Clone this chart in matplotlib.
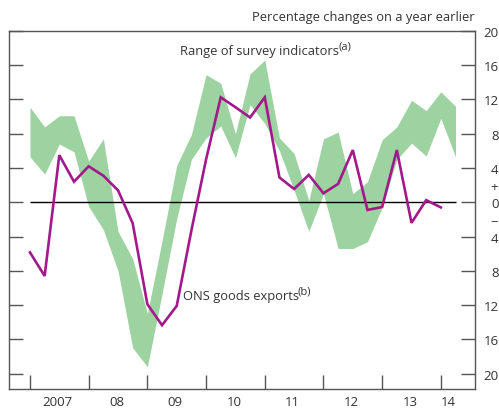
import numpy as np
import matplotlib
matplotlib.use("Agg")
import matplotlib.pyplot as plt

plt.rcParams['font.family'] = ['Open Sans', 'DejaVu Sans']

# quarterly data, 2007 Q1 onwards
survey_upper = [11.1, 8.8, 10.1, 10.1, 4.8, 7.4, -3.4, -6.6, -13.0, -4.5,
                4.3, 7.9, 14.9, 13.9, 8.0, 15.0, 16.6, 7.5, 5.7, 0.2,
                7.4, 8.2, 1.0, 2.4, 7.3, 8.8, 11.9, 10.7, 12.9, 11.2]
survey_lower = [5.3, 3.3, 6.8, 5.9, -0.5, -3.2, -8.0, -17.0, -19.2, -10.7,
                -1.9, 5.0, 7.5, 8.9, 5.2, 11.4, 9.2, 6.0, 1.4, -3.4,
                1.0, -5.4, -5.4, -4.6, -0.6, 5.0, 6.9, 5.4, 9.8, 5.3]
ons_exports = [-5.85, -8.6, 5.5, 2.4, 4.2, 3.1, 1.4, -2.45, -11.9, -14.35,
               -12.1, -3.3, 5.0, 12.25, 11.1, 9.9, 12.25, 2.9, 1.55, 3.2,
               1.05, 2.15, 6.1, -0.9, -0.55, 6.1, -2.4, 0.25, -0.6]

year_labels = ['2007', '08', '09', '10', '11', '12', '13', '14']
y_ticks = [-20, -16, -12, -8, -4, 0, 4, 8, 12, 16, 20]

green = '#9dd3a0'
purple = '#a3198b'
grey = '#333333'

x_band = np.arange(len(survey_upper))
x_line = np.arange(len(ons_exports))

fig = plt.figure(figsize=(4.99, 4.10), dpi=100)
ax = fig.add_axes([0.018, 0.0488, 0.934, 0.8732])

ax.fill_between(x_band, survey_lower, survey_upper, color=green, lw=0)
ax.hlines(0, x_band[0], x_band[-1], color='black', lw=1.0)
ax.plot(x_line, ons_exports, color=purple, lw=1.9, solid_joinstyle='miter')

ax.set_xlim(-1.43, 30.33)
ax.set_ylim(-21.8, 20)

for s in ax.spines.values():
    s.set_color('#555555')
    s.set_linewidth(1.0)

# x axis: ticks at year starts, labels mid-year
ax.set_xticks(np.arange(0, 29, 4))
ax.set_xticklabels([])
mids = [4 * k + 1.9 for k in range(7)] + [28.5]
ax.set_xticks(mids, minor=True)
ax.set_xticklabels(year_labels, minor=True)
ax.tick_params(axis='x', which='major', direction='in', length=10, width=1.0, color='#555555')
ax.tick_params(axis='x', which='minor', length=0, pad=4, labelsize=9.5, labelcolor=grey)

# y axis: ticks both sides, labels on right
ax.set_yticks(y_ticks)
ax.set_yticklabels([str(abs(v)) for v in y_ticks])
ax.set_yticks([-2, 2], minor=True)
ax.set_yticklabels(['\u2212', '+'], minor=True)
ax.tick_params(axis='y', which='major', direction='in', length=10, width=1.0, color='#555555',
               left=True, right=True, labelleft=False, labelright=True,
               pad=17, labelsize=9.5, labelcolor=grey)
ax.tick_params(axis='y', which='minor', length=0, left=False, right=False,
               labelleft=False, labelright=True, pad=11, labelsize=9.5, labelcolor=grey)
for lab in ax.get_yticklabels():
    lab.set_ha('right')

fig.text(0.952, 0.958, 'Percentage changes on a year earlier', ha='right', va='center',
         fontsize=9.3, color=grey)


def label_with_sup(x, y, main, sup):
    t = ax.text(x, y, main, transform=ax.transAxes, fontsize=9.3, color=grey,
                ha='left', va='center')
    fig.canvas.draw()
    bb = t.get_window_extent()
    ax.annotate(sup, xy=(bb.x1, bb.y1), xycoords='figure pixels',
                xytext=(-0.8, -1.5), textcoords='offset points',
                fontsize=8, color=grey, ha='left', va='center')


label_with_sup(0.368, (390 - 51.5) / 358, 'Range of survey indicators', '(a)')
label_with_sup(0.373, (390 - 296.5) / 358, 'ONS goods exports', '(b)')

fig.savefig('out.png', dpi=100)
